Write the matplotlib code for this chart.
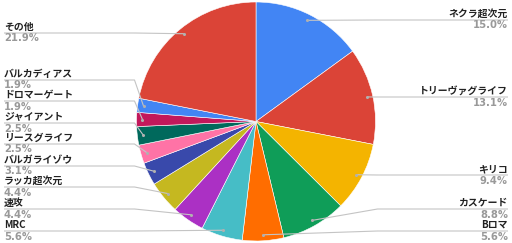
import numpy as np
import matplotlib
matplotlib.use('Agg')
import matplotlib.pyplot as plt

plt.rcParams['font.family'] = ['Noto Sans CJK JP', 'DejaVu Sans']

# データ
labels = ['ネクラ超次元', 'トリーヴァグライフ', 'キリコ', 'カスケード', 'Bロマ', 'MRC', '速攻',
          'ラッカ超次元', 'バルガライゾウ', 'リースグライフ', 'ジャイアント', 'ドロマーゲート',
          'バルカディアス', 'その他']
values = [15.0, 13.1, 9.4, 8.8, 5.6, 5.6, 4.4, 4.4, 3.1, 2.5, 2.5, 1.9, 1.9, 21.9]
colors = ['#4285f4', '#db4437', '#f4b400', '#0f9d58', '#ff6d00', '#46bdc6', '#ab30c4',
          '#c5b820', '#3949ab', '#ff73a6', '#00695c', '#c2185b', '#4285f4', '#db4437']

# ラベルの線の位置 (ピクセル, 上から)
line_y = [20, 97, 175, 209, 231, 231, 209, 187, 166, 144, 123, 101, 80, 33]

W, H = 512, 243
fig = plt.figure(figsize=(W / 100, H / 100), dpi=100)
ax = fig.add_axes([0, 0, 1, 1])

cx, cy, r = 256, 121.5, 119.5
wedges, _ = ax.pie(values, colors=colors, startangle=90, counterclock=False,
                   center=(cx, cy), radius=r,
                   wedgeprops=dict(edgecolor='white', linewidth=0.4))
ax.set_xlim(0, W)
ax.set_ylim(0, H)
ax.set_aspect('equal')
ax.axis('off')

total = sum(values)
cum = 0
for lab, v, ly in zip(labels, values, line_y):
    mid = (cum + v / 2) / total * 2 * np.pi
    cum += v
    ax_x = cx + 0.95 * r * np.sin(mid)
    ax_y = cy + 0.95 * r * np.cos(mid)
    y = H - ly
    if np.sin(mid) > 0:
        xs = [ax_x, cx + r + 2, 508]
        tx, ha = 508, 'right'
    else:
        xs = [ax_x, cx - r - 2, 4]
        tx, ha = 4, 'left'
    ax.plot(xs, [ax_y, y, y], color='#c4c4c4', lw=0.8, zorder=3, solid_capstyle='butt')
    ax.plot([ax_x], [ax_y], 'o', color='#b0b0b0', ms=1.2, zorder=4)
    ax.text(tx, y + 3, lab, ha=ha, va='baseline', fontsize=7.1, color='#222222',
            fontweight='bold')
    ax.text(tx, y - 8.5, f'{v:.1f}%', ha=ha, va='baseline', fontsize=7.2,
            color='#999999', fontweight='bold', family=['DejaVu Sans'])

plt.savefig('out.png', dpi=100)
